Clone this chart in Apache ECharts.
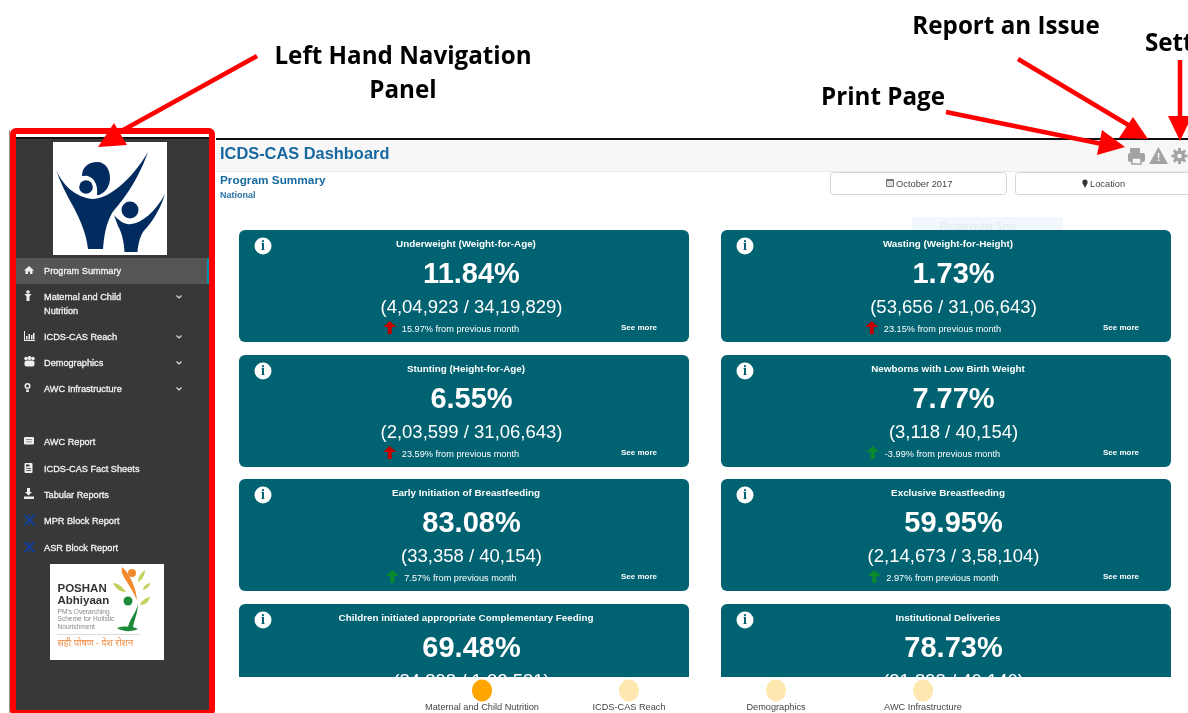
<!DOCTYPE html>
<html>
<head>
<meta charset="utf-8">
<title>ICDS-CAS Dashboard</title>
<style>
html, body { margin: 0; padding: 0; background: #fff; }
#chart { width: 1188px; height: 713px; }
</style>
<script src="https://cdn.jsdelivr.net/npm/echarts@6/dist/echarts.min.js"></script>
</head>
<body>
<div id="chart"></div>
<script>
// dashboard content
var cardTitles = [
    'Underweight (Weight-for-Age)', 'Wasting (Weight-for-Height)',
    'Stunting (Height-for-Age)', 'Newborns with Low Birth Weight',
    'Early Initiation of Breastfeeding', 'Exclusive Breastfeeding',
    'Children initiated appropriate Complementary Feeding', 'Institutional Deliveries'
];
var cardValues = ['11.84%', '1.73%', '6.55%', '7.77%', '83.08%', '59.95%', '69.48%', '78.73%'];
var cardCounts = [
    '(4,04,923 / 34,19,829)', '(53,656 / 31,06,643)',
    '(2,03,599 / 31,06,643)', '(3,118 / 40,154)',
    '(33,358 / 40,154)', '(2,14,673 / 3,58,104)',
    '(84,898 / 1,22,581)', '(31,898 / 40,140)'
];
var cardDeltas = ['15.97%', '23.15%', '23.59%', '-3.99%', '7.57%', '2.97%', '', ''];
var cardBad = [true, true, true, false, false, false, false, false];

var navTop = ['Program Summary', 'Maternal and Child', 'ICDS-CAS Reach', 'Demographics', 'AWC Infrastructure'];
var navBottom = ['AWC Report', 'ICDS-CAS Fact Sheets', 'Tabular Reports', 'MPR Block Report', 'ASR Block Report'];
var tabs = ['Maternal and Child Nutrition', 'ICDS-CAS Reach', 'Demographics', 'AWC Infrastructure'];

var ARIAL = '"Liberation Sans", Arial, sans-serif';
var NOTE = '"Open Sans", "Noto Sans", sans-serif';
var RED = '#fe0000';
var els = [];

// middle baseline sits about a pixel high, hence the y + 1
function text(x, y, s, font, fill, align, thick) {
    els.push({ type: 'text', silent: true, style: {
        x: x, y: y + 1, text: s, font: font, fill: fill,
        textAlign: align || 'left', textVerticalAlign: 'middle',
        stroke: thick ? fill : null, lineWidth: thick || 0
    } });
}
function rect(x, y, w, h, fill, r, stroke, lw) {
    els.push({ type: 'rect', silent: true, shape: { x: x, y: y, width: w, height: h, r: r || 0 },
        style: { fill: fill, stroke: stroke || null, lineWidth: lw || 0 } });
}
function path(d, fill) {
    els.push({ type: 'path', silent: true, shape: { pathData: d }, style: { fill: fill } });
}
function line(x1, y1, x2, y2, color, lw) {
    els.push({ type: 'line', silent: true, shape: { x1: x1, y1: y1, x2: x2, y2: y2 },
        style: { stroke: color, lineWidth: lw } });
}
function circle(x, y, r, fill) {
    els.push({ type: 'circle', silent: true, shape: { cx: x, cy: y, r: r }, style: { fill: fill } });
}
function ellipse(x, y, rx, ry, fill) {
    els.push({ type: 'ellipse', silent: true, shape: { cx: x, cy: y, rx: rx, ry: ry }, style: { fill: fill } });
}
function textWidth(s, font) {
    var ctx = document.createElement('canvas').getContext('2d');
    ctx.font = font;
    return ctx.measureText(s).width;
}

// page frame
rect(216, 138, 972, 2, '#111');
rect(216, 140, 972, 31, '#f7f7f7');
rect(216, 171, 972, 1, '#ececec');
text(220, 153, 'ICDS-CAS Dashboard', 'bold 16.4px ' + ARIAL, '#17699f');
text(220, 180, 'Program Summary', 'bold 11.8px ' + ARIAL, '#17699f');
text(220, 195, 'National', 'bold 9px ' + ARIAL, '#2a73a6');

// filters
rect(830.5, 172.5, 176, 22, '#fff', 3, '#d5d5d5', 1);
rect(1015.5, 172.5, 190, 22, '#fff', 3, '#d5d5d5', 1);
rect(886, 179, 8, 8, '#777', 1);
rect(887, 181, 6, 5, '#ddd');
text(896, 183, 'October 2017', '9.3px ' + ARIAL, '#444');
circle(1085, 182, 2.6, '#333');
path('M1082.5 183 L1087.5 183 L1085 188 Z', '#333');
text(1090, 183, 'Location', '9.3px ' + ARIAL, '#444');

// leftover snip tool tip
rect(912, 217, 151, 19, '#f1f7fc');
text(978, 226, 'Rectangular Snip', '10px ' + ARIAL, '#e2e7eb', 'center');

// toolbar icons
rect(1130, 148, 10, 5, '#a3a3a3', 1);
rect(1128, 153, 17, 9, '#a3a3a3', 2);
rect(1132, 158, 9, 6, '#f7f7f7', 0, '#a3a3a3', 1.5);
path('M1158.5 147 L1168 164 L1149 164 Z', '#a3a3a3');
text(1158.5, 157, '!', 'bold 11px ' + ARIAL, '#f7f7f7', 'center');
for (var g = 0; g < 8; g++) {
    var a = g * Math.PI / 4;
    line(1179.5, 156, 1179.5 + 8 * Math.cos(a), 156 + 8 * Math.sin(a), '#a3a3a3', 3);
}
circle(1179.5, 156, 5.5, '#a3a3a3');
circle(1179.5, 156, 2.3, '#f7f7f7');

// metric cards
var colX = [239, 721];
var rowY = [230, 355, 479, 604];
for (var i = 0; i < cardTitles.length; i++) {
    var cx = colX[i % 2];
    var cy = rowY[Math.floor(i / 2)];
    rect(cx, cy, 450, 112, '#016272', 6);
    circle(cx + 24, cy + 16, 8.5, '#fff');
    text(cx + 24, cy + 15.5, 'i', 'bold 14px "Liberation Serif", serif', '#016272', 'center');
    text(cx + 227, cy + 13, cardTitles[i], 'bold 9.85px ' + ARIAL, '#fff', 'center');
    text(cx + 232.5, cy + 44, cardValues[i], 'bold 29px ' + ARIAL, '#fff', 'center');
    text(cx + 232.5, cy + 77, cardCounts[i], '18.5px ' + ARIAL, '#fff', 'center');
    if (cardDeltas[i]) {
        var dFont = '9.2px ' + ARIAL;
        var dStr = cardDeltas[i] + ' from previous month';
        var dx = cx + 221.5 - textWidth(dStr, dFont) / 2;
        text(dx, cy + 98, dStr, dFont, '#fff');
        var ax = dx - 12, ay = cy + 97.5;
        path('M' + ax + ' ' + (ay - 6.5) + ' L' + (ax + 6.5) + ' ' + (ay - 0.5) + ' L' + (ax + 2) + ' ' + (ay - 0.5) +
            ' L' + (ax + 2) + ' ' + (ay + 6.5) + ' L' + (ax - 2) + ' ' + (ay + 6.5) + ' L' + (ax - 2) + ' ' + (ay - 0.5) +
            ' L' + (ax - 6.5) + ' ' + (ay - 0.5) + ' Z', cardBad[i] ? '#c40000' : '#0b8a2c');
        text(cx + 382, cy + 97, 'See more', 'bold 8px ' + ARIAL, '#fff');
    }
}

// bottom tab strip covers the cards
rect(216, 677, 972, 36, '#fff');
var tabX = [482, 629, 776, 923];
for (var t = 0; t < tabs.length; t++) {
    ellipse(tabX[t], 690.5, 10, 11, t === 0 ? '#ffa500' : '#ffe8b0');
    text(tabX[t], 706, tabs[t], '9.2px ' + ARIAL, '#444', 'center');
}

// side panel
rect(9, 130, 1, 583, '#999');
rect(16, 137, 194, 576, '#383838');
rect(16, 137, 194, 2, '#111');
rect(16, 258, 191, 26, '#555');
rect(207, 258, 2.5, 26, '#0a8fa8');

var navY = [270, 296, 336, 362, 388];
var navFont = '9.2px ' + ARIAL;
for (var n = 0; n < navTop.length; n++) {
    text(44, navY[n], navTop[n], navFont, '#f2f2f2', 'left', 0.3);
    if (n > 0) {
        els.push({ type: 'polyline', silent: true, shape: { points: [[176.5, navY[n] - 0.5], [179, navY[n] + 2], [181.5, navY[n] - 0.5]] },
            style: { stroke: '#ddd', lineWidth: 1.2, fill: null } });
    }
}
text(44, 310, 'Nutrition', navFont, '#f2f2f2', 'left', 0.3);
var navBottomY = [441, 468, 494, 520, 547];
for (var m = 0; m < navBottom.length; m++) {
    text(44, navBottomY[m], navBottom[m], navFont, '#f2f2f2', 'left', 0.3);
}

// nav icons
path('M29 266 L34 270.5 L32.5 270.5 L32.5 274 L30 274 L30 271.5 L28 271.5 L28 274 L25.5 274 L25.5 270.5 L24 270.5 Z', '#eee');
circle(28, 292, 1.8, '#eee');
path('M24.5 294 L31.5 294 L29.5 296.5 L29.5 301 L26.5 301 L26.5 296.5 Z', '#eee');
rect(24, 331, 1, 10, '#eee');
rect(24, 340, 11, 1, '#eee');
rect(26, 336, 1.5, 3.5, '#eee');
rect(28.5, 334, 1.5, 5.5, '#eee');
rect(31, 335, 1.5, 4.5, '#eee');
rect(33, 333, 1.5, 6.5, '#eee');
circle(26, 358.5, 1.8, '#eee');
circle(29.5, 358, 2, '#eee');
circle(33, 358.5, 1.8, '#eee');
rect(24.5, 360.5, 10, 6, '#eee', 2);
circle(27.5, 386, 3, '#eee');
circle(27.5, 386, 1.5, '#383838');
rect(26.2, 389.5, 2.6, 2.5, '#eee');
rect(24, 437, 10, 7.5, '#eee', 1);
rect(26, 439, 6, 0.8, '#777');
rect(26, 441.5, 6, 0.8, '#777');
rect(24.5, 463, 8, 10, '#eee', 1);
rect(26, 464.5, 3.5, 2, '#383838');
rect(26.2, 468, 4.8, 0.8, '#383838');
rect(26.2, 470, 4.8, 0.8, '#383838');
path('M27 488 L30 488 L30 492 L32 492 L28.5 495.5 L25 492 L27 492 Z', '#eee');
rect(24, 496.5, 10, 2.5, '#eee');
var blockY = [520, 547];
for (var b = 0; b < blockY.length; b++) {
    line(24.5, blockY[b] - 5, 34.5, blockY[b] + 5, '#123f9c', 2.2);
    line(34.5, blockY[b] - 5, 24.5, blockY[b] + 5, '#123f9c', 2.2);
    line(29.5, blockY[b] - 5, 29.5, blockY[b] - 3, '#123f9c', 1);
    line(29.5, blockY[b] + 5, 29.5, blockY[b] + 3, '#123f9c', 1);
}

// programme logo
rect(53, 142, 114, 113, '#fff');
var NAVY = '#022b60';
path('M55.5 168 C62 185 75 197 92 199 C108 199 130 182 148 152 C135 188 118 205 112 213 C106 224 104 236 103 249 L88 249 C86 232 80 220 74 208 C66 194 60 182 55.5 168 Z', NAVY);
path('M114 215 C120 222 126 225 131 224 C142 223 155 212 165 194 C158 216 148 226 143 232 C139 239 138 246 137.5 252 L124.5 252 C124 242 122 233 118 226 Z', NAVY);
path('M82 176 C82 166 90 162 97 162 C106 162 110 170 110 178 C110 186 106 192 99 195 L97 195 C98 188 96 180 90 177 C87 175 84 176 82 176 Z', NAVY);
circle(86, 187, 6.8, NAVY);
circle(130, 210, 8.5, NAVY);

// Poshan logo
rect(50, 564, 114, 96, '#fff');
text(57.5, 588, 'POSHAN', 'bold 11.5px ' + ARIAL, '#333');
text(57.5, 600, 'Abhiyaan', 'bold 11.5px ' + ARIAL, '#333');
var poshanLines = ["PM's Overarching", 'Scheme for Holistic', 'Nourishment'];
for (var p = 0; p < poshanLines.length; p++) {
    text(57.5, 611 + p * 7.5, poshanLines[p], '6.6px ' + ARIAL, '#888');
}
rect(57, 634, 83, 0.5, '#bbb');
text(57.5, 642, 'सही पोषण - देश रोशन', '9.4px "Noto Sans", ' + ARIAL, '#ee8a40');
circle(132, 573, 4, '#f08a2c');
path('M122 567 C120 576 128 580 137 600 C136 588 131 578 126 571 Z', '#f08a2c');
circle(128, 601, 4.5, '#1e8a3c');
path('M138 603 C137 612 130 618 128 627 L133 627 C135 618 138 612 138 603 Z', '#1e8a3c');
path('M117 628 C123 626 132 626 138 629 C132 632 123 632 117 628 Z', '#1e8a3c');
path('M113 583 C118 583 123 587 126 592 C120 592 116 589 113 583 Z', '#c5cf5e');
path('M150 597 C145 598 141 601 140 605 C145 605 149 602 150 597 Z', '#c5cf5e');
path('M145 570 C141 573 138 577 138 582 C142 580 145 575 145 570 Z', '#c5cf5e');
path('M150 583 C146 584 143 587 143 590 C147 589 150 586 150 583 Z', '#c5cf5e');

// red annotation frame and arrows
rect(13, 131, 199, 582, null, 3, RED, 6);
var annot = 'bold 24.2px ' + NOTE;
text(403, 56, 'Left Hand Navigation', annot, '#000', 'center');
text(403, 90, 'Panel', annot, '#000', 'center');
text(1006, 26, 'Report an Issue', annot, '#000', 'center');
text(883, 97, 'Print Page', annot, '#000', 'center');
text(1145, 43, 'Settings', annot, '#000');

line(257, 56, 116, 134, RED, 4.5);
path('M98 147 L114 123 L127 145 Z', RED);
line(1018, 59, 1130, 126, RED, 4.5);
path('M1148 139 L1133 117 L1119 138 Z', RED);
line(946, 112, 1112, 146, RED, 4.5);
path('M1125 147 L1102 130 L1097 155 Z', RED);
line(1180, 60, 1180, 125, RED, 4.5);
path('M1180 141 L1168 116 L1192 116 Z', RED);

var myChart = echarts.init(document.getElementById('chart'), null, { renderer: 'canvas' });
myChart.setOption({
    backgroundColor: '#fff',
    animation: false,
    series: [{
        type: 'custom',
        coordinateSystem: 'none',
        silent: true,
        clip: false,
        data: [0],
        renderItem: function () {
            return { type: 'group', children: els };
        }
    }]
});
</script>
</body>
</html>
